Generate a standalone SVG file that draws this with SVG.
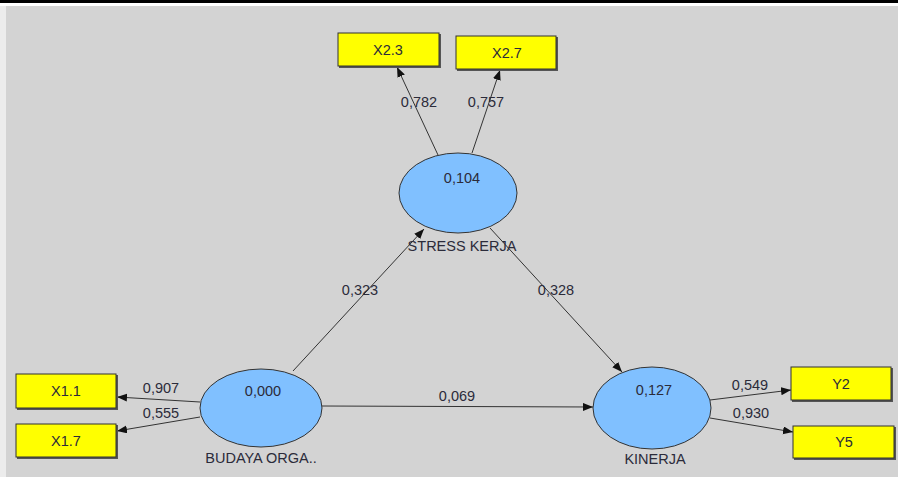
<svg xmlns="http://www.w3.org/2000/svg" width="898" height="477" viewBox="0 0 898 477">
<style>
.bg{fill:#d3d3d3}
.lv{fill:#80c0ff;stroke:#333;stroke-width:1}
.mv{fill:#ffff00;stroke:#333;stroke-width:1}
.sh{fill:#555}
.t{font-family:"Liberation Sans",Arial,sans-serif;font-size:14.5px;fill:#2b2b3a;text-anchor:middle}
.c{stroke:#333;stroke-width:1;fill:none;marker-end:url(#ah)}
</style>
<defs>
<marker id="ah" markerUnits="userSpaceOnUse" markerWidth="11" markerHeight="9" refX="10" refY="4" orient="auto">
<path d="M0,0 L10,4 L0,8 Z" fill="#111"/>
</marker>
</defs>
<rect x="0" y="0" width="898" height="477" fill="#ececec"/>
<rect x="6" y="6" width="892" height="471" class="bg"/>
<rect x="0" y="0" width="898" height="3" fill="#000"/>
<rect x="0" y="3" width="898" height="3" fill="#fff"/>

<g id="connectors">
<line class="c" x1="438" y1="155" x2="397" y2="67"/>
<line class="c" x1="472" y1="153" x2="500" y2="70"/>
<line class="c" x1="293" y1="371" x2="424" y2="229"/>
<line class="c" x1="490" y1="228" x2="622" y2="372"/>
<line class="c" x1="322" y1="406" x2="593" y2="407"/>
<line class="c" x1="200" y1="402" x2="117" y2="397"/>
<line class="c" x1="200" y1="417" x2="117" y2="431"/>
<line class="c" x1="710" y1="400" x2="791" y2="390"/>
<line class="c" x1="710" y1="418" x2="793" y2="432"/>
<text class="t" x="419" y="107">0,782</text>
<text class="t" x="486" y="107">0,757</text>
<text class="t" x="360" y="295">0,323</text>
<text class="t" x="556" y="295">0,328</text>
<text class="t" x="457" y="401">0,069</text>
<text class="t" x="161" y="393">0,907</text>
<text class="t" x="161" y="418">0,555</text>
<text class="t" x="750" y="390">0,549</text>
<text class="t" x="751" y="418">0,930</text>
</g>

<g id="stress-kerja">
<ellipse class="lv" cx="458" cy="193" rx="59" ry="40"/>
<text class="t" x="462" y="183">0,104</text>
<text class="t" x="462" y="251">STRESS KERJA</text>
</g>
<g id="budaya">
<ellipse class="lv" cx="261" cy="408" rx="61" ry="39"/>
<text class="t" x="263" y="396">0,000</text>
<text class="t" x="261" y="463">BUDAYA ORGA..</text>
</g>
<g id="kinerja">
<ellipse class="lv" cx="652" cy="408" rx="59" ry="41"/>
<text class="t" x="654" y="395">0,127</text>
<text class="t" x="655" y="464">KINERJA</text>
</g>

<g id="x2-3">
<rect class="sh" x="339" y="34" width="102" height="34"/>
<rect class="mv" x="338" y="33" width="101" height="33"/>
<text class="t" x="388" y="55">X2.3</text>
</g>
<g id="x2-7">
<rect class="sh" x="457" y="37" width="101" height="34"/>
<rect class="mv" x="456" y="36" width="100" height="33"/>
<text class="t" x="507" y="58">X2.7</text>
</g>
<g id="x1-1">
<rect class="sh" x="17" y="375" width="101" height="35"/>
<rect class="mv" x="16" y="374" width="100" height="34"/>
<text class="t" x="66" y="396">X1.1</text>
</g>
<g id="x1-7">
<rect class="sh" x="17" y="425" width="101" height="34"/>
<rect class="mv" x="16" y="424" width="100" height="33"/>
<text class="t" x="66" y="446">X1.7</text>
</g>
<g id="y2">
<rect class="sh" x="792" y="368" width="101" height="34"/>
<rect class="mv" x="791" y="367" width="100" height="33"/>
<text class="t" x="841" y="389">Y2</text>
</g>
<g id="y5">
<rect class="sh" x="794" y="427" width="102" height="33"/>
<rect class="mv" x="793" y="426" width="101" height="32"/>
<text class="t" x="844" y="447">Y5</text>
</g>
</svg>
